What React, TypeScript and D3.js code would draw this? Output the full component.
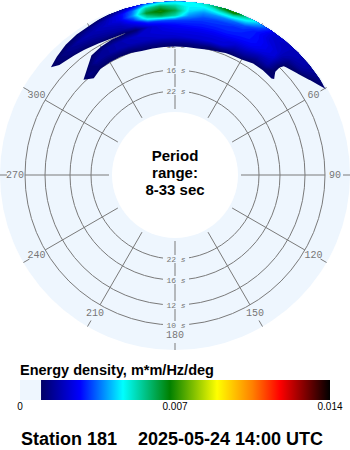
import React from "react";
import * as d3 from "d3";

// ---- data ----
// direction bins (degrees, compass, negative = west of north)
const directions = [-55, -50, -45, -40, -35, -30, -25, -20, -15, -10, -5, 0, 5, 10, 15, 20, 25, 30, 35, 40, 45, 50, 55, 60, 65, 70];
// frequency bins (Hz)
const frequencies = [0.075, 0.08, 0.085, 0.09, 0.095, 0.1, 0.105, 0.11, 0.115, 0.12, 0.125, 0.13];
// energy density in units of 1e-4 m*m/Hz/deg, one array per direction, inner (low f) -> outer (high f)
const energyE4: number[][] = [
  [0, 0, 0, 0, 0, 0, 0, 0, 0, 0, 0, 0],
  [0, 0, 0, 0, 0, 0, 1, 7, 9, 7, 4, 2],
  [1, 4, 8.5, 2, 1, 2, 5, 10.5, 11.5, 8, 5, 3],
  [3, 9.3, 13, 9, 3, 3, 8, 12.5, 14, 10, 7, 5],
  [4, 7, 11, 15, 11, 6, 10, 14, 17, 12, 7, 4],
  [5, 7, 10.5, 15, 15, 7, 13, 16, 18, 15, 6, 3],
  [5, 7, 10.5, 17, 17, 8.8, 15, 18, 20, 18, 9, 5],
  [5, 7, 11, 18, 19, 9.2, 17, 20, 24, 24, 14, 8],
  [5, 7, 13, 19, 21, 11, 22, 30, 38, 34, 22, 15],
  [5, 7, 13, 20, 22, 21, 30, 52, 64, 54, 34, 25],
  [5, 7, 13, 21, 23, 25, 32, 60, 70, 60, 40, 30],
  [5, 7, 13, 21, 24, 27, 32, 54, 62, 54, 42, 35],
  [5, 7, 13, 22, 24, 28, 31, 38, 44, 46, 46, 44],
  [5, 7, 13, 22, 24, 28, 30, 33, 38, 45, 52, 55],
  [5, 7, 11, 22, 24, 28, 30, 32, 38, 50, 66, 72],
  [5, 7, 10, 22, 24, 28, 30, 31, 36, 52, 76, 82],
  [4, 5, 9, 16, 22, 27, 29, 30, 33, 44, 56, 60],
  [3, 4, 8, 15, 21, 26, 28, 28, 28, 32, 40, 42],
  [2, 4, 6, 11, 17, 23, 25, 25, 23, 22, 24, 24],
  [1, 3, 6, 10.5, 17, 20, 22, 22, 21, 20, 21, 21],
  [0, 2, 5, 11, 8, 7.5, 10, 13, 17, 19, 19, 18],
  [0, 0, 2, 3, 3, 4, 7, 10, 15, 17, 17, 16],
  [0, 0, 0, 1, 2, 3, 5, 7, 9, 12, 14, 13],
  [0, 0, 0, 0, 0, 1, 2, 4, 6, 7.5, 10, 11],
  [0, 0, 0, 0, 0, 0, 0, 1, 3, 4, 6, 7],
  [0, 0, 0, 0, 0, 0, 0, 0, 0, 0, 0, 0],
];
const radiusPeriods = [33, 22, 16, 12, 10, 8];
const ringPeriods = [10, 12, 16, 22];
const dirTicks = [0, 30, 60, 90, 120, 150, 180, 210, 240, 270, 300, 330];
const colorStopsE4 = [9.5, 27.1, 46.5, 67.7, 89, 105, 117.4, 140];
const colorHexes = ["#000066", "#0000ff", "#00ffff", "#008000", "#ffff00", "#ff8000", "#ff0000", "#000000"];
const legendTicks = [0, 0.007, 0.014];
const legendLabels = ["0", "0.007", "0.014"];
const centerLines = ["Period", "range:", "8-33 sec"];
const legendTitle = "Energy density, m*m/Hz/deg";
const stationText = "Station 181";
const dateText = "2025-05-24 14:00 UTC";

const cx = 175;
const cy = 175;
const DISC = "#eef6fe";
const GRID = "#7a7a7a";

export default function App() {
  const rScale = d3
    .scaleLinear()
    .domain(radiusPeriods.map((p) => 1 / p))
    .range([66, 84, 105, 130, 150, 174]);
  const color = d3.scaleLinear<string>().domain(colorStopsE4).range(colorHexes).clamp(true);

  const polar = (deg: number, r: number): [number, number] => {
    const a = (deg * Math.PI) / 180;
    return [cx + r * Math.sin(a), cy - r * Math.cos(a)];
  };

  const n = directions.length;
  const m = frequencies.length;
  const values: number[] = new Array(n * m);
  for (let j = 0; j < m; j++) for (let i = 0; i < n; i++) values[i + j * n] = energyE4[i][j];
  const thresholds = d3.range(9.5, 90, 1.25);
  const contours = d3.contours().size([n, m]).thresholds(thresholds)(values);
  const dStep = directions[1] - directions[0];
  const fStep = frequencies[1] - frequencies[0];
  const proj = d3.geoTransform({
    point(x: number, y: number) {
      const th = directions[0] + (x - 0.5) * dStep;
      const f = frequencies[0] + (y - 0.5) * fStep;
      const [px, py] = polar(th, rScale(f));
      (this as any).stream.point(px, py);
    },
  });
  const path = d3.geoPath(proj);

  const xLeg = d3.scaleLinear().domain([0, 0.014]).range([20, 330]);
  const gStart = xLeg(colorStopsE4[0] * 1e-4);
  const gEnd = xLeg(colorStopsE4[colorStopsE4.length - 1] * 1e-4);

  const mono = "'Liberation Mono', 'DejaVu Sans Mono', monospace";
  const sans = "'Liberation Sans', Arial, sans-serif";

  return (
    <svg width={350} height={450} style={{ position: "absolute", left: 0, top: 0 }}>
      <defs>
        <clipPath id="discClip">
          <circle cx={cx} cy={cy} r={173.5} />
        </clipPath>
        <linearGradient id="legGrad" x1="0" x2="1" y1="0" y2="0">
          {colorStopsE4.map((v, i) => (
            <stop
              key={i}
              offset={(xLeg(v * 1e-4) - gStart) / (gEnd - gStart)}
              stopColor={colorHexes[i]}
            />
          ))}
        </linearGradient>
      </defs>
      <rect x={0} y={0} width={350} height={450} fill="#ffffff" />
      <circle cx={cx} cy={cy} r={175} fill={DISC} />

      {/* rings */}
      {ringPeriods.map((p) => (
        <circle key={p} cx={cx} cy={cy} r={rScale(1 / p)} fill="none" stroke={GRID} strokeWidth={1} />
      ))}
      {/* spokes and outer ticks */}
      {dirTicks.map((d) => {
        const [x1, y1] = polar(d, rScale(1 / 33));
        const [x2, y2] = polar(d, rScale(1 / 10));
        const [x3, y3] = polar(d, 168);
        const [x4, y4] = polar(d, 175);
        return (
          <g key={d}>
            <line x1={x1} y1={y1} x2={x2} y2={y2} stroke={GRID} strokeWidth={1} />
            <line x1={x3} y1={y3} x2={x4} y2={y4} stroke={GRID} strokeWidth={1} />
          </g>
        );
      })}
      {/* direction labels */}
      {dirTicks.map((d) => {
        const [x, y] = polar(d, 160);
        return (
          <text key={d} x={x} y={y} textAnchor="middle" dominantBaseline="central" fontFamily={mono} fontSize={10} fill="#777">
            {d}
          </text>
        );
      })}
      {/* ring labels */}
      {ringPeriods.map((p) =>
        [-1, 1].map((s) => {
          const y = cy + s * rScale(1 / p);
          return (
            <g key={p + "_" + s}>
              <rect x={163} y={y - 4} width={26} height={8} fill={DISC} />
              <text x={176} y={y} textAnchor="middle" dominantBaseline="central" fontFamily={mono} fontSize={8} fill="#777">
                {p + " "}
                <tspan fontStyle="italic">s</tspan>
              </text>
            </g>
          );
        })
      )}

      {/* spectrum */}
      <g clipPath="url(#discClip)">
        {contours.map((c, i) => (
          <path key={i} d={path(c as any) || ""} fill={color(c.value + 0.6)} fillRule="evenodd" stroke="none" />
        ))}
      </g>

      {/* center */}
      <circle cx={cx} cy={cy} r={63} fill="#ffffff" />
      {centerLines.map((t, i) => (
        <text key={i} x={cx} y={161 + i * 17} textAnchor="middle" fontFamily={sans} fontWeight="bold" fontSize={15} fill="#000">
          {t}
        </text>
      ))}

      {/* legend */}
      <text x={20} y={375} fontFamily={sans} fontWeight="bold" fontSize={14.5} fill="#000">
        {legendTitle}
      </text>
      <rect x={xLeg(0)} y={380} width={gStart - xLeg(0)} height={20} fill={DISC} />
      <rect x={gStart} y={380} width={gEnd - gStart} height={20} fill="url(#legGrad)" />
      {legendTicks.map((v, i) => (
        <text key={i} x={xLeg(v)} y={410} textAnchor="middle" fontFamily={sans} fontSize={10} fill="#000">
          {legendLabels[i]}
        </text>
      ))}
      <text x={21} y={445} fontFamily={sans} fontWeight="bold" fontSize={18} fill="#000">
        {stationText}
      </text>
      <text x={138} y={445} fontFamily={sans} fontWeight="bold" fontSize={18} fill="#000">
        {dateText}
      </text>
    </svg>
  );
}
